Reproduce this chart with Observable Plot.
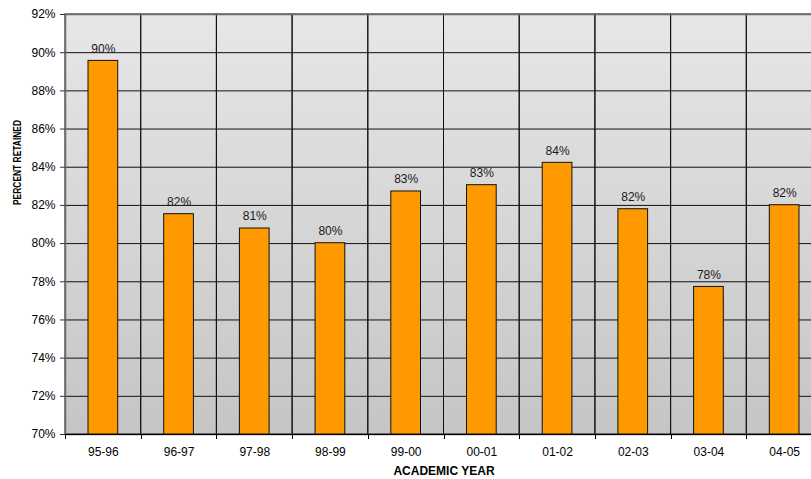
<!DOCTYPE html>
<html><head><meta charset="utf-8">
<script src="https://cdn.jsdelivr.net/npm/d3@7"></script>
<script src="https://cdn.jsdelivr.net/npm/@observablehq/plot@0.6"></script>
<style>
html,body{margin:0;padding:0;background:#fff;overflow:hidden;width:811px;height:479px}
#chart{width:823px;height:479px}
#chart svg{display:block;max-width:none !important;width:823px !important;height:479px !important}
</style></head><body><div id="chart"></div>
<script>
// ---- data ----
const years = ["95-96","96-97","97-98","98-99","99-00","00-01","01-02","02-03","03-04","04-05"];
const retained = [89.57, 81.54, 80.79, 80.02, 82.73, 83.06, 84.23, 81.80, 77.73, 82.01];
const valueLabels = ["90%","82%","81%","80%","83%","83%","84%","82%","78%","82%"];
const yTicks = [70,72,74,76,78,80,82,84,86,88,90,92];
const yTickLabels = ["70%","72%","74%","76%","78%","80%","82%","84%","86%","88%","90%","92%"];
const xTitle = "ACADEMIC YEAR";
const yTitle = "PERCENT RETAINED";

const rows = years.map((year, i) => ({year, value: retained[i], label: valueLabels[i]}));
const yMin = yTicks[0], yMax = yTicks[yTicks.length - 1];

function background(index, scales, values, dims) {
  const g = d3.create("svg:g");
  const lg = g.append("defs").append("linearGradient")
    .attr("id", "bgGrad").attr("x1", 0).attr("y1", 0).attr("x2", 0).attr("y2", 1);
  lg.append("stop").attr("offset", "0%").attr("stop-color", "#e7e7e7");
  lg.append("stop").attr("offset", "100%").attr("stop-color", "#c5c5c5");
  g.append("rect")
    .attr("x", dims.marginLeft).attr("y", dims.marginTop)
    .attr("width", dims.width - dims.marginLeft - dims.marginRight)
    .attr("height", dims.height - dims.marginTop - dims.marginBottom)
    .attr("fill", "url(#bgGrad)");
  return g.node();
}

function boundaryTicks(index, scales, values, dims) {
  const x = scales.x, y = scales.y;
  const step = x(years[1]) - x(years[0]);
  const xs = years.map(d => x(d)).concat([x(years[years.length - 1]) + step]);
  const y0 = y(yMin);
  const g = d3.create("svg:g").attr("stroke", "#000").attr("stroke-width", 1);
  for (const v of xs) {
    const px = Math.round(v) + 0.5;
    g.append("line").attr("x1", px).attr("x2", px).attr("y1", y0).attr("y2", y0 + 5);
  }
  return g.node();
}

const chart = Plot.plot({
  width: 823,
  height: 479,
  marginLeft: 65,
  marginRight: 1,
  marginTop: 14,
  marginBottom: 45,
  style: {fontFamily: "'Liberation Sans', Arial, sans-serif", fontSize: "12px", background: "#fff", color: "#000", maxWidth: "none"},
  x: {type: "band", domain: years, padding: 0, round: false},
  y: {domain: [yMin, yMax]},
  marks: [
    background,
    Plot.barY(years, {x: d => d, y1: yMin, y2: yMax, fill: "none", stroke: "#111", strokeWidth: 1}),
    Plot.ruleY(yTicks, {stroke: "#111", strokeWidth: 1}),
    Plot.frame({stroke: "#6a6a6a", strokeWidth: 1.5}),
    Plot.barY(rows, {x: "year", y1: yMin, y2: "value", fill: "#ff9900", stroke: "#111", strokeWidth: 1, insetLeft: 23, insetRight: 23}),
    Plot.ruleY([yMin], {stroke: "#000", strokeWidth: 1}),
    boundaryTicks,
    Plot.text(rows, {x: "year", y: "value", text: "label", dy: -12, fontSize: 12, fill: "#1a1a1a"}),
    Plot.axisY({ticks: yTicks, tickFormat: (d) => yTickLabels[yTicks.indexOf(d)], tickSize: 5, tickPadding: 5, fontSize: 12, label: null, stroke: "#333"}),
    Plot.axisX({tickSize: 0, tickPadding: 13, fontSize: 12, label: null}),
    Plot.text([xTitle], {frameAnchor: "bottom", dy: 40, text: d => d, fontWeight: "bold", fontSize: 12, fill: "#000"}),
    Plot.text([yTitle], {frameAnchor: "left", dx: -47.5, dy: -19.5, rotate: -90, text: d => d, fontWeight: "bold", fontSize: 10, fill: "#000", className: "ytitle"})
  ]
});
// condense the rotated y-axis title to the reference's narrow look
d3.select(chart).selectAll(".ytitle text")
  .attr("textLength", 85).attr("lengthAdjust", "spacingAndGlyphs");
document.getElementById("chart").appendChild(chart);
</script>
</body></html>
